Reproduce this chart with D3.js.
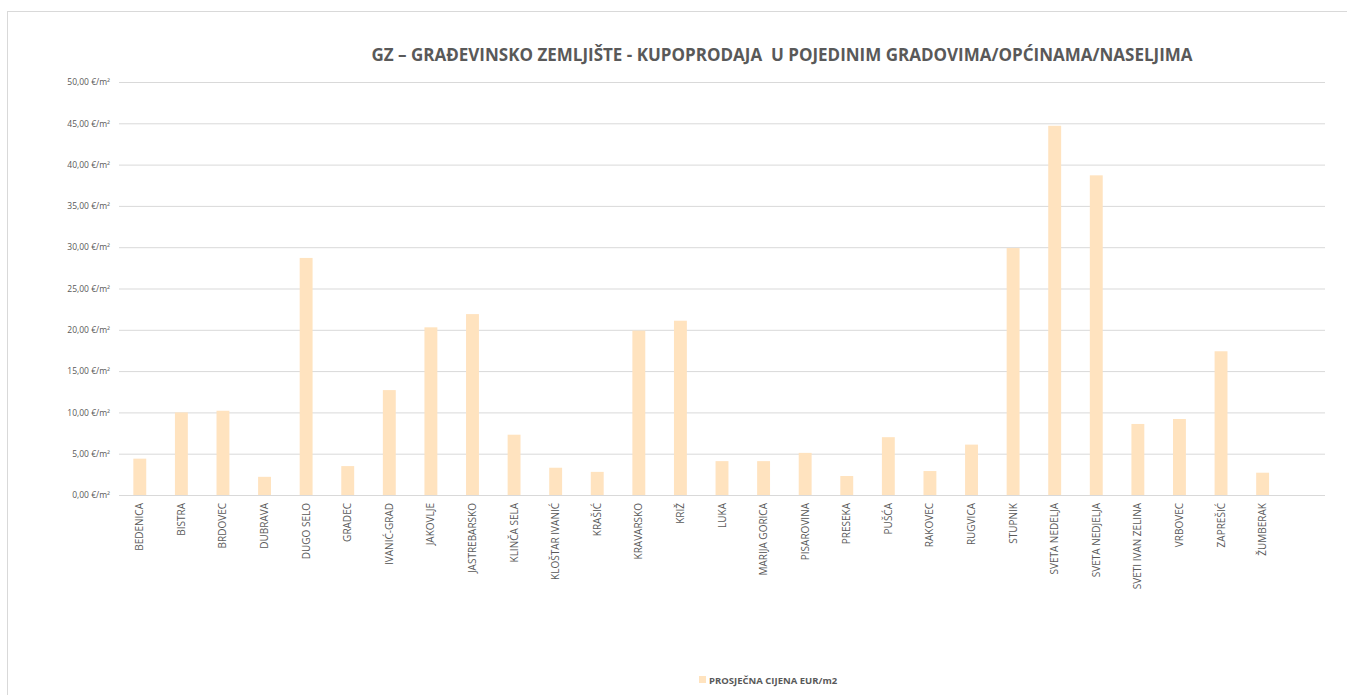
<!DOCTYPE html>
<html>
<head>
<meta charset="utf-8">
<script src="https://cdn.jsdelivr.net/npm/d3@7"></script>
<style>
  body { margin: 0; background: #fff; }
  text { font-family: "Open Sans", "Liberation Sans", sans-serif; }
</style>
</head>
<body>
<div id="chart"></div>
<script>
// Chart data
const places = ["BEDENICA", "BISTRA", "BRDOVEC", "DUBRAVA", "DUGO SELO", "GRADEC", "IVANIĆ-GRAD",
  "JAKOVLJE", "JASTREBARSKO", "KLINČA SELA", "KLOŠTAR IVANIĆ", "KRAŠIĆ", "KRAVARSKO", "KRIŽ",
  "LUKA", "MARIJA GORICA", "PISAROVINA", "PRESEKA", "PUŠĆA", "RAKOVEC", "RUGVICA", "STUPNIK",
  "SVETA NEDELJA", "SVETA NEDJELJA", "SVETI IVAN ZELINA", "VRBOVEC", "ZAPREŠIĆ", "ŽUMBERAK"];
const prices = [4.4, 10.0, 10.2, 2.2, 28.7, 3.5, 12.7, 20.3, 21.9, 7.3, 3.3, 2.8, 19.9, 21.1,
  4.1, 4.1, 5.1, 2.3, 7.0, 2.9, 6.1, 29.9, 44.7, 38.7, 8.6, 9.2, 17.4, 2.7];
const yTicks = [0, 5, 10, 15, 20, 25, 30, 35, 40, 45, 50];
const title = "GZ – GRAĐEVINSKO ZEMLJIŠTE - KUPOPRODAJA  U POJEDINIM GRADOVIMA/OPĆINAMA/NASELJIMA";
const seriesName = "PROSJEČNA CIJENA EUR/m2";

const width = 1347;
const height = 695;
const plot = { left: 119, right: 1325, top: 82, bottom: 495 };
const barColor = "#ffe3bf";
const textColor = "#595959";

const svg = d3.select("#chart").append("svg")
  .attr("width", width)
  .attr("height", height);

// Outer frame
svg.append("rect")
  .attr("x", 7.5).attr("y", 11.5)
  .attr("width", width - 7).attr("height", height - 11)
  .attr("fill", "none")
  .attr("stroke", "#d9d9d9");

// Title (keeps the double space)
svg.append("text")
  .attr("x", 782)
  .attr("y", 61)
  .attr("text-anchor", "middle")
  .style("font-size", "17px")
  .style("font-weight", "bold")
  .style("white-space", "pre")
  .style("fill", textColor)
  .text(title);

// Scales: the plot area leaves room for one empty slot on the right
const step = (plot.right - plot.left) / (places.length + 1);
const x = d3.scaleBand()
  .domain(places)
  .range([plot.left, plot.left + step * places.length])
  .paddingInner(0.69)
  .paddingOuter(0.345);

const y = d3.scaleLinear()
  .domain([0, 50])
  .range([plot.bottom, plot.top]);

// Gridlines and y labels
const yAxis = svg.append("g")
  .attr("transform", `translate(${plot.left},0)`)
  .call(d3.axisLeft(y)
    .tickValues(yTicks)
    .tickSize(-(plot.right - plot.left))
    .tickPadding(9)
    .tickFormat(d => d3.format(".2f")(d).replace(".", ",") + " €/m²"));
yAxis.select(".domain").remove();
yAxis.selectAll(".tick line").attr("stroke", "#d9d9d9");
yAxis.selectAll(".tick text")
  .style("font-size", "8.5px")
  .style("fill", textColor);

// Bars
svg.selectAll("rect.bar")
  .data(places)
  .enter()
  .append("rect")
  .attr("class", "bar")
  .attr("x", d => x(d))
  .attr("width", x.bandwidth())
  .attr("y", (d, i) => y(prices[i]))
  .attr("height", (d, i) => y(0) - y(prices[i]))
  .attr("fill", barColor);

// Baseline
svg.append("line")
  .attr("x1", plot.left).attr("x2", plot.right)
  .attr("y1", plot.bottom + 0.5).attr("y2", plot.bottom + 0.5)
  .attr("stroke", "#d9d9d9");

// Category labels, rotated
svg.selectAll("text.cat")
  .data(places)
  .enter()
  .append("text")
  .attr("class", "cat")
  .attr("transform", d => `translate(${x(d) + x.bandwidth() / 2 + 3.5},503) rotate(-90)`)
  .attr("text-anchor", "end")
  .style("font-size", "10px")
  .style("fill", textColor)
  .text(d => d);

// Legend
const legend = svg.append("g").attr("transform", "translate(699,676)");
legend.append("rect")
  .attr("width", 7).attr("height", 7)
  .attr("fill", barColor);
legend.append("text")
  .attr("x", 10).attr("y", 7.5)
  .style("font-size", "9.5px")
  .style("font-weight", "bold")
  .style("fill", textColor)
  .text(seriesName);
</script>
</body>
</html>
